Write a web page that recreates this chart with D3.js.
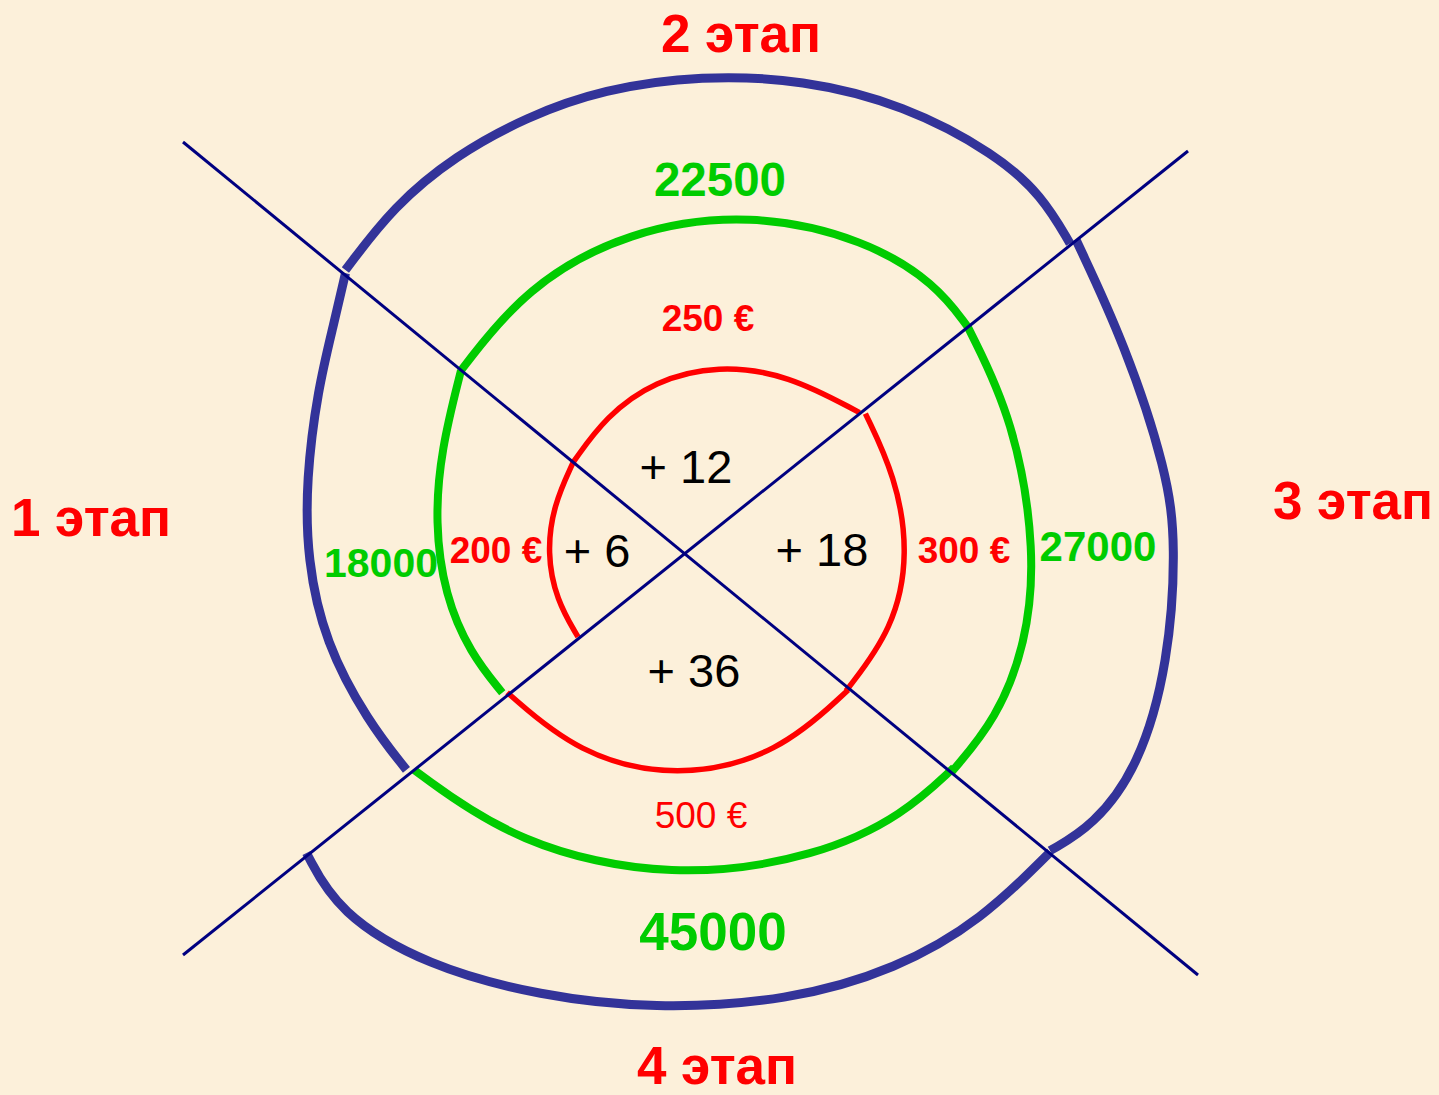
<!DOCTYPE html>
<html>
<head>
<meta charset="utf-8">
<script src="https://cdn.jsdelivr.net/npm/d3@7"></script>
<style>
  body { margin: 0; background: #fcf0da; }
  svg { display: block; }
</style>
</head>
<body>
<div id="chart"></div>
<script>
// labels per stage (left, top, right, bottom sector)
const stages = ["1 этап", "2 этап", "3 этап", "4 этап"];
const bonus = ["+ 6", "+ 12", "+ 18", "+ 36"];
const prices = ["200 €", "250 €", "300 €", "500 €"];
const turnover = ["18000", "22500", "27000", "45000"];

const width = 1439;
const height = 1095;
const center = [685, 553];

// the two crossing lines
const dividers = [
    [[183, 142], [1198, 975]],
    [[183, 955], [1188, 151]]
];

// ring outlines, sampled as [screen angle in degrees, radius] per sector
const redRing = [
    [[141.9, 136], [160, 137], [180, 138], [200, 140], [219.1, 144]],
    [[219.1, 144], [240, 158], [260, 175], [280, 191], [300, 206], [321.2, 224]],
    [[-37.7, 228], [-20, 224], [0, 224], [20, 222], [40.6, 212]],
    [[40, 213], [65, 222], [92, 226], [118, 228], [141.9, 226]]
];
const greenRing = [
    [[142.6, 230], [155, 237], [170, 244], [187, 252], [203, 265], [219.2, 289]],
    [[219.2, 289], [239, 310], [260, 328], [281, 347], [300, 362], [313, 368], [321.5, 362]],
    [[-38.6, 362], [-22, 355], [0, 351], [15, 353], [28, 353], [39.4, 345]],
    [[38.6, 344], [50, 341], [66, 332], [92, 327], [120, 337], [141.3, 347]]
];
const blueRing = [
    [[142.1, 353], [152, 359], [166, 371], [179, 378], [191, 386], [204, 402], [213, 419], [219.5, 440]],
    [[219.8, 442], [230, 453], [240, 459], [250, 464], [260, 471], [272, 478], [284, 488], [296, 499], [308, 506], [315, 505], [321.2, 494]],
    [[-38.7, 501], [-25.3, 487], [-9.5, 489], [-1, 491], [12.7, 496], [25.2, 502], [33.8, 491], [39.2, 471]],
    [[39.3, 472], [51, 472], [63, 467], [77, 460], [94, 457], [108, 466], [122, 487], [134, 500], [141.6, 483]]
];

const rings = [
    { arcs: blueRing, color: "#333399", width: 9 },
    { arcs: greenRing, color: "#00cc00", width: 8 },
    { arcs: redRing, color: "#ff0000", width: 5.5 }
];

let svg = d3.select("#chart")
    .append("svg")
        .attr("width", width)
        .attr("height", height)

svg.append("rect")
    .attr("width", width)
    .attr("height", height)
    .attr("fill", "#fcf0da")

let g = svg.append("g")
    .attr("transform", `translate(${center[0]}, ${center[1]})`)

let radial = d3.lineRadial()
    .angle(d => (d[0] + 90) * Math.PI / 180)
    .radius(d => d[1])
    .curve(d3.curveBasis)

rings.forEach(ring => {
    g.selectAll(null)
        .data(ring.arcs)
        .enter()
        .append("path")
            .attr("d", radial)
            .attr("fill", "none")
            .attr("stroke", ring.color)
            .attr("stroke-width", ring.width)
            .attr("stroke-linecap", "butt")
})

svg.selectAll("line.div")
    .data(dividers)
    .enter()
    .append("line")
        .attr("x1", d => d[0][0])
        .attr("y1", d => d[0][1])
        .attr("x2", d => d[1][0])
        .attr("y2", d => d[1][1])
        .attr("stroke", "#000080")
        .attr("stroke-width", 3)

// text placement, same sector order as the label arrays
const stagePos = [[91, 517], [741, 33], [1353, 500], [717, 1065]];
const bonusPos = [[597, 550], [686, 466], [822, 549], [694, 670]];
const pricePos = [[496, 550], [708, 318], [964, 550], [701, 815]];
const turnPos = [[381, 562], [720, 179], [1098, 546], [713, 931]];
const turnSize = [41, 47.5, 42, 53];

const font = "'Liberation Sans', Arial, sans-serif";

function addLabels(labels, pos, opts) {
    svg.selectAll(null)
        .data(labels)
        .enter()
        .append("text")
            .attr("x", (d, i) => pos[i][0])
            .attr("y", (d, i) => pos[i][1])
            .attr("dy", "0.36em")
            .attr("text-anchor", "middle")
            .attr("font-family", font)
            .attr("font-size", (d, i) => typeof opts.size === "function" ? opts.size(i) : opts.size)
            .attr("font-weight", (d, i) => typeof opts.weight === "function" ? opts.weight(i) : opts.weight)
            .attr("fill", opts.color)
            .text(d => d)
}

addLabels(stages, stagePos, { size: 53, weight: "bold", color: "#ff0000" })
addLabels(turnover, turnPos, { size: i => turnSize[i], weight: "bold", color: "#00cc00" })
addLabels(prices, pricePos, { size: 37, weight: i => i === 3 ? "normal" : "bold", color: "#ff0000" })
addLabels(bonus, bonusPos, { size: 47, weight: "normal", color: "#000000" })
</script>
</body>
</html>
